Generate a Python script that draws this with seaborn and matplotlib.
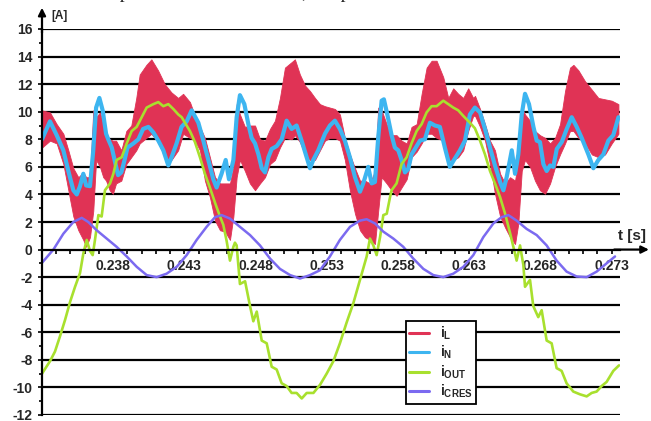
import numpy as np
import pandas as pd
import matplotlib
matplotlib.use("Agg")
import matplotlib.pyplot as plt
from matplotlib.lines import Line2D
import seaborn as sns

# ---------------- data ----------------
t_L = [0.2330, 0.23356, 0.23403, 0.2345, 0.23485, 0.2352, 0.23555, 0.2359, 0.2361, 0.23637,
       0.2366, 0.2368, 0.23707, 0.2373, 0.2375, 0.23775, 0.23798, 0.2382, 0.23857, 0.23892,
       0.23927, 0.23962, 0.23986, 0.24033, 0.24068, 0.24115, 0.24162, 0.24209, 0.24256, 0.24291,
       0.24339, 0.24374, 0.24409, 0.24444, 0.24479, 0.24515, 0.2455, 0.24585, 0.2462, 0.24644,
       0.24667, 0.2469, 0.24725, 0.2476, 0.24796, 0.24831, 0.24866, 0.24901, 0.24936, 0.24971,
       0.25006, 0.25053, 0.25076, 0.25111, 0.25147, 0.25182, 0.25217, 0.25252, 0.25287, 0.25322,
       0.25357, 0.25392, 0.25427, 0.25462, 0.25498, 0.25533, 0.25568, 0.25603, 0.25638, 0.25661,
       0.25685, 0.2572, 0.25755, 0.2579, 0.25825, 0.25861, 0.25895, 0.25931, 0.25966, 0.26001,
       0.26036, 0.26071, 0.26118, 0.26153, 0.26188, 0.26223, 0.26258, 0.26293, 0.26328, 0.26341,
       0.26376, 0.26411, 0.26446, 0.26481, 0.26517, 0.26552, 0.26587, 0.26622, 0.26645, 0.26669,
       0.26692, 0.26727, 0.26762, 0.26797, 0.26833, 0.26868, 0.26903, 0.26938, 0.26973, 0.27008,
       0.27032, 0.27067, 0.27114, 0.27161, 0.27207, 0.27254, 0.27301, 0.27348]
iL_upper = [10.1, 9.95, 9.1, 8.4, 7.2, 5.9, 5.25, 5.6, 5.25, 5.25,
            10.1, 9.6, 9.95, 9.1, 8.4, 8.0, 7.9, 7.9, 7.2, 8.6,
            9.0, 11.0, 12.7, 13.4, 13.8, 13.0, 12.0, 11.4, 11.0, 11.3,
            10.7, 9.7, 8.9, 8.1, 6.7, 5.25, 4.8, 4.8, 4.8, 6.0,
            10.55, 9.8, 8.9, 9.0, 9.0, 8.0, 7.9, 8.75, 9.35, 11.0,
            13.2, 13.6, 13.8, 12.7, 11.9, 11.5, 11.0, 10.55, 10.4, 10.3,
            10.2, 9.8, 8.1, 6.9, 5.9, 5.0, 5.0, 4.8, 5.7, 10.3,
            10.1, 9.1, 8.3, 8.3, 7.9, 7.7, 8.9, 9.1, 11.3, 13.2,
            13.7, 13.7, 12.5, 11.0, 11.7, 11.3, 11.0, 11.7, 11.0, 11.15,
            10.2, 9.1, 7.9, 7.2, 5.5, 4.8, 5.25, 5.0, 6.5, 10.3,
            9.8, 9.35, 8.6, 8.3, 8.1, 7.7, 8.1, 9.1, 11.5, 13.2,
            13.4, 13.0, 12.2, 11.6, 11.0, 10.9, 10.8, 10.55]
iL_lower = [7.4, 7.9, 7.7, 6.2, 4.3, 2.4, 1.4, 0.7, 0.2, 0.9,
            2.8, 6.5, 6.0, 5.25, 5.0, 4.3, 4.05, 4.8, 5.0, 6.2,
            6.7, 7.2, 7.7, 8.1, 8.4, 7.8, 6.7, 6.5, 7.2, 8.4,
            8.1, 7.9, 7.2, 5.0, 3.8, 2.1, 1.4, 1.3, 0.7, 2.4,
            5.25, 6.5, 5.7, 4.8, 4.3, 4.8, 5.25, 6.2, 6.5, 7.4,
            8.1, 8.0, 8.3, 7.8, 6.9, 6.5, 6.5, 7.2, 7.9, 8.1,
            8.1, 7.9, 6.5, 4.3, 2.6, 1.4, 0.9, 0.7, 0.4, 2.8,
            5.25, 4.8, 4.3, 3.9, 4.5, 5.1, 6.7, 7.1, 7.7, 8.4,
            8.4, 8.1, 7.9, 6.5, 6.5, 6.7, 7.2, 8.6, 9.7, 9.7,
            8.9, 7.9, 6.2, 4.05, 2.4, 1.6, 0.9, 0.4, 1.9, 5.7,
            6.5, 6.0, 5.0, 4.3, 4.05, 4.8, 6.0, 6.9, 7.7, 8.6,
            8.6, 8.1, 7.7, 6.9, 6.7, 6.9, 7.7, 8.4]

t_N = [0.2330, 0.23356, 0.23403, 0.2345, 0.23485, 0.2352, 0.23544, 0.23567, 0.2359, 0.2361,
       0.23637, 0.2366, 0.2368, 0.23703, 0.23726, 0.2375, 0.23765, 0.2379, 0.2381, 0.23834,
       0.23857, 0.2388, 0.2390, 0.23942, 0.23977, 0.2401, 0.24047, 0.24082, 0.24117, 0.24152,
       0.24187, 0.2421, 0.24245, 0.2428, 0.24316, 0.24351, 0.24398, 0.24433, 0.24468, 0.24503,
       0.24526, 0.24561, 0.2459, 0.24613, 0.24644, 0.24667, 0.2469, 0.24721, 0.24749, 0.24772,
       0.24796, 0.2482, 0.24843, 0.24866, 0.2489, 0.24913, 0.24948, 0.24983, 0.25018, 0.25053,
       0.25088, 0.25123, 0.25158, 0.25182, 0.25205, 0.2524, 0.25287, 0.25322, 0.25357, 0.25392,
       0.25427, 0.25462, 0.25498, 0.25533, 0.25556, 0.25591, 0.25615, 0.25638, 0.25661, 0.25685,
       0.25701, 0.25725, 0.25755, 0.25778, 0.25802, 0.25825, 0.25849, 0.25872, 0.25895, 0.25919,
       0.25954, 0.25989, 0.26024, 0.26059, 0.26094, 0.26129, 0.26164, 0.26193, 0.26235, 0.2627,
       0.26305, 0.2634, 0.26376, 0.26411, 0.26446, 0.26481, 0.26517, 0.2654, 0.26563, 0.26599,
       0.26622, 0.26645, 0.26669, 0.26692, 0.2672, 0.26751, 0.26774, 0.26797, 0.26821, 0.26844,
       0.26868, 0.26891, 0.26915, 0.2695, 0.26985, 0.2702, 0.27055, 0.2709, 0.27137, 0.27172,
       0.27207, 0.27242, 0.27277, 0.27312, 0.27348]
iN = [8.0, 9.3, 8.3, 7.2, 5.7, 4.3, 4.0, 4.6, 5.5, 4.65,
      4.6, 7.2, 10.3, 11.0, 10.1, 8.4, 8.0, 7.4, 6.5, 5.4,
      5.6, 6.5, 7.4, 7.7, 8.0, 8.75, 8.9, 8.5, 7.9, 7.2,
      6.1, 6.7, 7.7, 8.9, 9.3, 10.1, 9.2, 7.9, 6.5, 5.1,
      4.5, 5.5, 6.5, 5.1, 6.5, 9.6, 11.2, 10.55, 9.1, 8.1,
      7.7, 6.9, 5.9, 5.6, 6.7, 7.3, 7.5, 8.0, 9.35, 8.75,
      9.0, 7.9, 6.7, 5.9, 6.5, 7.2, 8.4, 9.0, 9.35, 8.75,
      7.9, 6.7, 5.25, 4.2, 4.8, 6.0, 4.8, 4.9, 8.1, 10.8,
      10.9, 9.8, 8.3, 7.4, 7.2, 6.5, 5.6, 5.85, 6.9, 7.3,
      7.9, 8.0, 9.2, 9.0, 8.9, 7.4, 6.0, 6.5, 7.2, 7.9,
      9.8, 10.3, 9.95, 8.75, 7.4, 6.1, 4.9, 4.3, 5.25, 7.2,
      5.5, 6.9, 9.8, 11.3, 10.55, 8.9, 7.9, 7.8, 6.2, 5.7,
      6.1, 6.0, 7.3, 7.8, 8.75, 9.6, 8.9, 8.1, 6.9, 5.9,
      6.5, 6.9, 7.9, 8.3, 9.6]

t_OUT = [0.2330, 0.23356, 0.23391, 0.23426, 0.23462, 0.23497, 0.23532, 0.23567, 0.2359, 0.23614,
         0.23637, 0.23656, 0.23672, 0.23696, 0.23719, 0.23742, 0.23778, 0.23801, 0.23824, 0.2386,
         0.23895, 0.2393, 0.23965, 0.2400, 0.24035, 0.24082, 0.24117, 0.24152, 0.24187, 0.24222,
         0.24257, 0.24281, 0.24304, 0.24339, 0.24374, 0.24409, 0.24444, 0.24479, 0.24515, 0.2455,
         0.24573, 0.24597, 0.2462, 0.24644, 0.24655, 0.24667, 0.2469, 0.24726, 0.24761, 0.24784,
         0.24808, 0.24843, 0.24878, 0.24913, 0.24948, 0.24983, 0.25018, 0.25053, 0.25088, 0.25124,
         0.25159, 0.25206, 0.25253, 0.25299, 0.25346, 0.25392, 0.25439, 0.25486, 0.25533, 0.2558,
         0.25603, 0.25627, 0.2565, 0.25674, 0.25697, 0.25721, 0.25744, 0.25755, 0.2579, 0.25825,
         0.25861, 0.25895, 0.25931, 0.25966, 0.26001, 0.26036, 0.26071, 0.26118, 0.26153, 0.26188,
         0.26223, 0.26258, 0.26305, 0.2634, 0.26376, 0.26411, 0.26446, 0.26481, 0.26517, 0.26552,
         0.26587, 0.2661, 0.26633, 0.26657, 0.2668, 0.26692, 0.26727, 0.2675, 0.26785, 0.26809,
         0.26844, 0.26879, 0.26914, 0.26949, 0.26984, 0.27031, 0.27078, 0.27125, 0.2716, 0.27195,
         0.2723, 0.27265, 0.27312, 0.27352]
iOUT = [-9.0, -8.1, -7.4, -6.3, -5.1, -3.8, -2.7, -1.7, -0.3, 0.7,
        -0.1, -0.4, 0.7, 2.5, 2.4, 4.3, 4.8, 5.5, 6.5, 6.7,
        7.7, 8.6, 8.9, 9.6, 10.3, 10.55, 10.7, 10.4, 10.55, 10.2,
        9.8, 9.6, 9.2, 8.6, 7.8, 6.7, 5.5, 4.5, 3.4, 2.4,
        1.8, 0.6, -0.8, 0.2, 0.5, 0.3, -2.5, -2.3, -4.1, -5.2,
        -4.5, -6.6, -6.8, -8.5, -8.7, -9.7, -9.9, -10.4, -10.4, -10.8,
        -10.4, -10.4, -9.8, -9.0, -8.1, -6.8, -5.3, -3.9, -2.2, -0.5,
        0.8, 0.3, -0.4, 0.9, 2.5, 2.6, 3.8, 4.3, 4.8, 6.2,
        6.7, 7.7, 8.6, 9.1, 9.95, 10.4, 10.4, 10.8, 10.55, 10.3,
        10.1, 9.7, 9.2, 8.8, 7.9, 6.9, 5.7, 4.8, 3.8, 2.6,
        1.2, 0.2, -0.8, 0.3, -1.1, -2.7, -2.2, -4.1, -4.9, -4.4,
        -6.6, -6.8, -8.6, -8.8, -9.7, -10.3, -10.5, -10.65, -10.4, -10.3,
        -9.9, -9.6, -8.8, -8.4]

t_CRES = [0.2330, 0.2338, 0.2345, 0.2352, 0.23579, 0.23625, 0.23684, 0.23754, 0.23824, 0.23895,
          0.23965, 0.24035, 0.24105, 0.24175, 0.24246, 0.24316, 0.24386, 0.24456, 0.24515, 0.24562,
          0.2462, 0.2469, 0.24761, 0.24831, 0.24901, 0.24971, 0.25042, 0.25112, 0.25182, 0.25252,
          0.25322, 0.25392, 0.25463, 0.25533, 0.2558, 0.25638, 0.25697, 0.25767, 0.25837, 0.25907,
          0.25978, 0.26048, 0.26118, 0.26188, 0.26259, 0.26329, 0.26399, 0.2647, 0.26528, 0.26575,
          0.26633, 0.26703, 0.26774, 0.26844, 0.26914, 0.26984, 0.27054, 0.27125, 0.27195, 0.27265,
          0.27324]
iCRES = [-0.96, 0.0, 1.15, 2.0, 2.3, 2.0, 1.4, 0.8, 0.2, -0.5,
         -1.25, -1.85, -2.0, -1.75, -1.25, -0.4, 0.7, 1.65, 2.35, 2.5,
         2.25, 1.65, 1.05, 0.3, -0.65, -1.4, -1.85, -2.1, -1.85, -1.5,
         -0.5, 0.7, 1.65, 2.1, 2.2, 1.9, 1.3, 0.8, 0.2, -0.65,
         -1.4, -1.85, -2.0, -1.75, -1.25, -0.4, 0.9, 1.9, 2.35, 2.5,
         2.1, 1.5, 1.05, 0.3, -0.8, -1.6, -1.95, -2.0, -1.6, -1.0,
         -0.5]

x_ticks = [0.238, 0.243, 0.248, 0.253, 0.258, 0.263, 0.268, 0.273]
x_ticklabels = ["0.238", "0.243", "0.248", "0.253", "0.258", "0.263", "0.268", "0.273"]
y_ticks = list(range(-12, 17, 2))

legend_labels = [r"$\mathbf{i}_{\mathbf{L}}$", r"$\mathbf{i}_{\mathbf{N}}$",
                 r"$\mathbf{i}_{\mathbf{OUT}}$", r"$\mathbf{i}_{\mathbf{CRES}}$"]

C_L = "#E03355"
C_N = "#3DB5F0"
C_OUT = "#A8E02E"
C_CRES = "#7B6AF0"

# ---------------- style ----------------
sns.set_theme(style="white")
plt.rcParams["font.family"] = ["Liberation Sans", "DejaVu Sans"]
plt.rcParams["font.weight"] = "bold"
plt.rcParams["mathtext.fontset"] = "custom"
plt.rcParams["mathtext.rm"] = "Liberation Sans:bold"
plt.rcParams["mathtext.bf"] = "Liberation Sans:bold"
plt.rcParams["mathtext.it"] = "Liberation Sans:bold"

W, H = 651, 421
fig = plt.figure(figsize=(W / 100, H / 100), dpi=100)
ax = fig.add_axes([42 / W, 1 - 415 / H, (620 - 42) / W, (415 - 29) / H])
ax.set_facecolor("white")

ax.set_xlim(0.233, 0.27359)
ax.set_ylim(-12, 16)

# grid lines
for yv in y_ticks:
    if yv != 0:
        ax.axhline(yv, color="black", lw=1.6, zorder=1)

# series
ax.fill_between(t_L, iL_lower, iL_upper, color=C_L, lw=0.6, edgecolor=C_L, zorder=3)
dfN = pd.DataFrame({"t": t_N, "v": iN})
dfO = pd.DataFrame({"t": t_OUT, "v": iOUT})
dfC = pd.DataFrame({"t": t_CRES, "v": iCRES})
sns.lineplot(data=dfN, x="t", y="v", ax=ax, color=C_N, lw=3.0, sort=False, estimator=None, zorder=4)
sns.lineplot(data=dfO, x="t", y="v", ax=ax, color=C_OUT, lw=1.9, sort=False, estimator=None, zorder=5)
sns.lineplot(data=dfC, x="t", y="v", ax=ax, color=C_CRES, lw=1.8, sort=False, estimator=None, zorder=6)

# axes
for s in ["top", "right"]:
    ax.spines[s].set_visible(False)
ax.spines["left"].set_color("black")
ax.spines["left"].set_linewidth(1.6)
ax.spines["bottom"].set_position(("data", 0))
ax.spines["bottom"].set_color("black")
ax.spines["bottom"].set_linewidth(1.6)
ax.spines["left"].set_zorder(7)
ax.spines["bottom"].set_zorder(7)

ax.set_xticks(x_ticks)
ax.set_xticklabels(x_ticklabels)
ax.set_xticks(np.arange(0.234, 0.2736, 0.001), minor=True)
ax.set_yticks(y_ticks)
ax.set_yticklabels([str(v) for v in y_ticks])
ax.set_yticks(list(range(-11, 16, 2)), minor=True)
ax.tick_params(axis="x", which="both", direction="out", length=3, width=1.2, color="black",
               labelsize=10, pad=4, bottom=True)
ax.tick_params(axis="y", which="major", direction="out", length=3, width=1.2, color="black",
               labelsize=10, pad=4, left=True)
ax.tick_params(axis="y", which="minor", direction="out", length=2, width=1.2, color="black", left=True)
for lab in ax.get_xticklabels() + ax.get_yticklabels():
    lab.set_fontweight("bold")
ax.set_xlabel("")
ax.set_ylabel("")

# arrows
ax.annotate("", xy=(1.05, 0), xycoords=("axes fraction", "data"),
            xytext=(0.99, 0), textcoords=("axes fraction", "data"),
            arrowprops=dict(arrowstyle="-|>", lw=1.6, color="black", mutation_scale=11,
                            shrinkA=0, shrinkB=0), annotation_clip=False, zorder=8)
ax.annotate("", xy=(0, 1.055), xycoords="axes fraction",
            xytext=(0, 0.99), textcoords="axes fraction",
            arrowprops=dict(arrowstyle="-|>", lw=1.6, color="black", mutation_scale=11,
                            shrinkA=0, shrinkB=0), annotation_clip=False, zorder=8)

fig.text(51 / W, 1 - 16 / H, "[A]", fontsize=8.5, fontweight="bold", va="center", ha="left")
fig.text(618 / W, 1 - 236 / H, "t [s]", fontsize=11, fontweight="bold", va="center", ha="left")

# page text above the figure, cut off so that only its lower edge shows
fig.text(0.0, 1 - 1.5 / H, "ve model. Compared to the SOI model, the peak value of i   is",
         fontsize=14, family="Liberation Serif", fontweight="normal", va="bottom", ha="left",
         color="#222222")

# legend
handles = [Line2D([0], [0], color=c, lw=2.2) for c in [C_L, C_N, C_OUT, C_CRES]]
leg = fig.legend(handles, legend_labels, loc="upper left",
                 bbox_to_anchor=(406 / W, 1 - 321 / H), bbox_transform=fig.transFigure,
                 frameon=True, fancybox=False, framealpha=1, edgecolor="black",
                 fontsize=10, handlelength=1.4, handletextpad=0.8, labelspacing=0.15,
                 borderpad=0.25, borderaxespad=0)
leg.get_frame().set_linewidth(1.3)
leg.set_zorder(10)

fig.savefig("out.png", dpi=100, facecolor="white")
